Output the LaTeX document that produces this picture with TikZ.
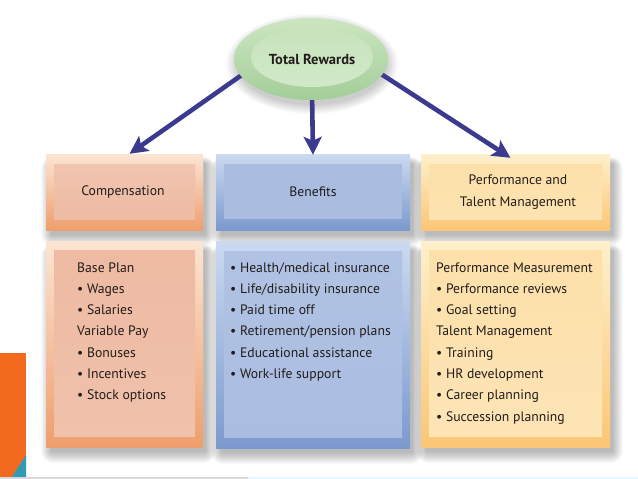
\documentclass[tikz,border=0pt]{standalone}
\usepackage{fontspec}
\setmainfont{PT Sans}
\usetikzlibrary{arrows.meta,shapes.geometric}
\definecolor{arrowblue}{HTML}{3B3A8E}
\definecolor{txt}{HTML}{221C1B}
\definecolor{compTop}{HTML}{FCE5D4}
\definecolor{compBot}{HTML}{EE9E6C}
\definecolor{compIn}{HTML}{EEBAA2}
\definecolor{benTop}{HTML}{CBDAF1}
\definecolor{benBot}{HTML}{7C99CE}
\definecolor{benIn}{HTML}{AABDE1}
\definecolor{perfTop}{HTML}{FEF0CC}
\definecolor{perfBot}{HTML}{FBC675}
\definecolor{perfIn}{HTML}{FDE0A9}
\definecolor{grTop}{HTML}{CBE6C1}
\definecolor{grBot}{HTML}{A3CE98}
\definecolor{grIn}{HTML}{C6E3BB}
\definecolor{orangebar}{HTML}{F26A1E}
\definecolor{tealtri}{HTML}{2F9BB5}
\newcommand{\myshadow}[4]{% x1 y1 x2 y2
  \foreach \i in {1,...,12}{
    \fill[black,opacity=0.022,rounded corners=\i pt]
      (#1+6-\i*0.9,#2+10-\i*0.6) rectangle (#3+2+\i*0.9,#4+4+\i*1.0);
  }}
\begin{document}
\begin{tikzpicture}[x=1pt,y=-1pt,
  frame/.style={draw=none,inner sep=0pt,minimum width=#1},
  innerbox/.style={draw=none,inner sep=0pt},
  label/.style={text=txt,font=\fontsize{13.7}{21.3}\selectfont,inner sep=0pt},
  item/.style={text=txt,font=\fontsize{13.7}{21.3}\selectfont,inner sep=0pt,anchor=base west},
  conn/.style={draw=arrowblue,line width=4.6pt,
    -{Stealth[length=18pt,width=18pt,inset=4pt]}}]
\useasboundingbox (0,0) rectangle (638,479);
\fill[white] (0,0) rectangle (638,479);

% bottom strip and corner decoration
\fill[orangebar] (0,353) rectangle (26,477);
\fill[tealtri] (26,455) -- (26,477) -- (12,477) -- cycle;
\fill[black!15] (0,476.5) rectangle (248,479);
\fill[cyan!10] (248,476.5) rectangle (638,479);

% soft shadows
\myshadow{46}{154}{203}{230}
\myshadow{216}{154}{410}{230}
\myshadow{421}{154}{610}{230}
\myshadow{46}{241}{203}{447}
\myshadow{216}{241}{410}{448}
\myshadow{421}{241}{610}{447}
\foreach \i in {1,...,10}{
  \fill[black,opacity=0.02] (312,64) ellipse ({74+\i*1.2} and {40+\i*1.0});
}

% top row
\node[frame=157pt,minimum height=76pt,top color=compTop,bottom color=compBot] (comp) at (124.5,192) {};
\node[innerbox,minimum width=141pt,minimum height=55pt,top color=compIn!85!white,bottom color=compIn] (compi) at (124.5,191.5) {};
\node[label] (compt) at (123,192) {Compensation};

\node[frame=194pt,minimum height=76pt,top color=benTop,bottom color=benBot] (ben) at (313,192) {};
\node[innerbox,minimum width=178pt,minimum height=55pt,fill=benIn] (beni) at (313,191.5) {};
\node[label] (bent) at (313,192) {Benefits};

\node[frame=189pt,minimum height=76pt,top color=perfTop,bottom color=perfBot] (perf) at (515.5,192) {};
\node[innerbox,minimum width=173pt,minimum height=55pt,top color=perfIn,bottom color=perfIn!90!white] (perfi) at (515.5,191.5) {};
\node[label,align=center] (perft) at (518,192) {Performance and\\Talent Management};

% bottom row
\node[frame=157pt,minimum height=206pt,top color=compTop,bottom color=compBot] (compL) at (124.5,344) {};
\node[innerbox,minimum width=141pt,minimum height=186pt,top color=compIn,bottom color=compIn!90!white] (compLi) at (124.5,343.5) {};

\node[frame=194pt,minimum height=207pt,top color=benTop,bottom color=benBot] (benL) at (313,344.5) {};
\node[innerbox,minimum width=178pt,minimum height=186pt,top color=benIn!92!white,bottom color=benIn] (benLi) at (313,344) {};

\node[frame=189pt,minimum height=206pt,top color=perfTop,bottom color=perfBot] (perfL) at (515.5,344) {};
\node[innerbox,minimum width=173pt,minimum height=186pt,top color=perfIn,bottom color=perfIn!85!white] (perfLi) at (515.5,343.5) {};

% list texts
\foreach \t [count=\k] in {Base Plan,{\textbullet\ Wages},{\textbullet\ Salaries},Variable Pay,{\textbullet\ Bonuses},{\textbullet\ Incentives},{\textbullet\ Stock options}}{
  \node[item] (c\k) at (77,{272+(\k-1)*21.3}) {\t};
}
\foreach \t [count=\k] in {Health/medical insurance,Life/disability insurance,Paid time off,Retirement/pension plans,Educational assistance,Work-life support}{
  \node[item] (b\k) at (230,{272+(\k-1)*21.3}) {\textbullet\ \t};
}
\foreach \t [count=\k] in {Performance Measurement,{\textbullet\ Performance reviews},{\textbullet\ Goal setting},Talent Management,{\textbullet\ Training},{\textbullet\ HR development},{\textbullet\ Career planning},{\textbullet\ Succession planning}}{
  \node[item] (p\k) at (436,{272+(\k-1)*21.3}) {\t};
}

% connectors
\coordinate (s1) at (246,72);
\coordinate (s2) at (312,92);
\coordinate (s3) at (378,72);
\draw[conn] (s1) -- ([xshift=5pt]comp.north);
\draw[conn] (s2) -- ([yshift=-1pt]ben.north);
\draw[conn] (s3) -- ([xshift=-5pt,yshift=-4pt]perf.north);

% ellipse
\node[ellipse,draw=none,minimum width=154pt,minimum height=82pt,top color=grTop,bottom color=grBot] (tr) at (311,59) {};
\node[ellipse,draw=none,minimum width=122pt,minimum height=60pt,top color=grIn,bottom color=grIn!80!white] (tri) at (312,57) {};
\node[text=txt,font=\bfseries\fontsize{14.5}{16}\selectfont,inner sep=0pt] (trt) at (312,59) {Total Rewards};
\end{tikzpicture}
\end{document}
